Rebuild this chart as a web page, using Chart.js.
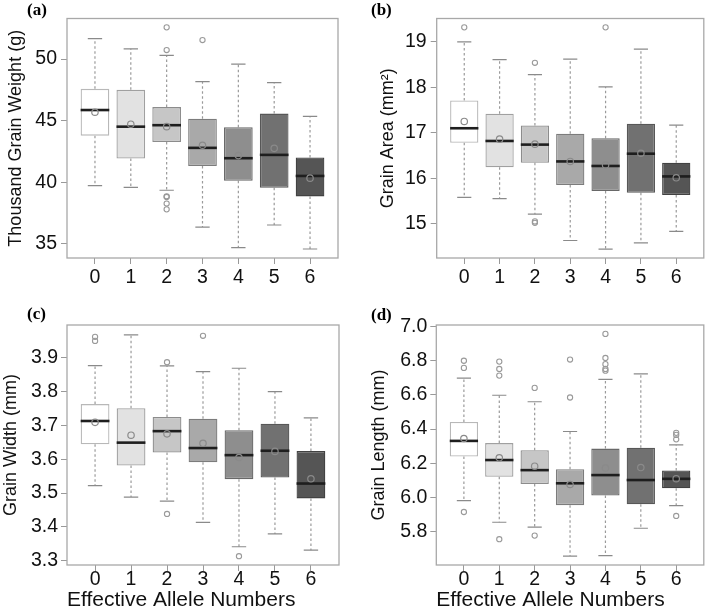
<!DOCTYPE html>
<html>
<head>
<meta charset="utf-8">
<script src="https://cdn.jsdelivr.net/npm/chart.js@4.4.1/dist/chart.umd.min.js"></script>
<style>
  html, body { margin: 0; padding: 0; background: #ffffff; }
  #wrap { position: relative; width: 709px; height: 616px; overflow: hidden; }
  canvas { position: absolute; }
</style>
</head>
<body>
<div id="wrap">
  <canvas id="ca" width="354" height="300" style="left:0px;top:0px;"></canvas>
  <canvas id="cb" width="355" height="300" style="left:354px;top:0px;"></canvas>
  <canvas id="cc" width="354" height="316" style="left:0px;top:300px;"></canvas>
  <canvas id="cd" width="355" height="316" style="left:354px;top:300px;"></canvas>
</div>
<script>
// ---------------- DATA ----------------
const categories = [0, 1, 2, 3, 4, 5, 6];

// (a) Thousand Grain Weight (g)
const twLo   = [39.73, 39.59, 39.35, 36.36, 34.70, 36.53, 34.58];
const twQ1   = [43.78, 41.92, 43.26, 41.31, 40.12, 39.55, 38.85];
const twMed  = [45.86, 44.51, 44.63, 42.79, 41.95, 42.22, 40.51];
const twQ3   = [47.58, 47.50, 46.10, 45.15, 44.47, 45.57, 42.01];
const twHi   = [51.65, 50.83, 50.29, 48.17, 49.59, 48.09, 45.34];
const twMean = [45.68, 44.71, 44.51, 43.00, 42.16, 42.75, 40.33];
const twOut  = [[], [], [52.57, 50.73, 38.86, 38.80, 38.27, 37.80], [51.54], [], [], []];
const twTicks = [35, 40, 45, 50];

// (b) Grain Area (mm²)
const gaLo   = [15.58, 15.55, 15.21, 14.63, 14.44, 14.58, 14.83];
const gaQ1   = [16.78, 16.24, 16.34, 15.85, 15.72, 15.68, 15.63];
const gaMed  = [17.10, 16.82, 16.74, 16.37, 16.27, 16.54, 16.04];
const gaQ3   = [17.71, 17.42, 17.16, 16.98, 16.88, 17.20, 16.34];
const gaHi   = [19.00, 18.61, 18.28, 18.62, 18.01, 18.84, 17.17];
const gaMean = [17.25, 16.86, 16.75, 16.37, 16.29, 16.55, 16.01];
const gaOut  = [[19.32], [], [18.54, 15.05, 15.02], [], [19.32], [], []];
const gaTicks = [15, 16, 17, 18, 19];

// (c) Grain Width (mm)
const gwLo   = [3.522, 3.488, 3.476, 3.413, 3.341, 3.379, 3.331];
const gwQ1   = [3.644, 3.581, 3.620, 3.591, 3.541, 3.546, 3.484];
const gwMed  = [3.713, 3.649, 3.683, 3.633, 3.612, 3.625, 3.528];
const gwQ3   = [3.763, 3.751, 3.725, 3.720, 3.686, 3.705, 3.624];
const gwHi   = [3.877, 3.968, 3.876, 3.859, 3.869, 3.800, 3.722];
const gwMean = [3.709, 3.671, 3.675, 3.647, 3.605, 3.623, 3.542];
const gwOut  = [[3.962, 3.950], [], [3.887, 3.438], [3.965], [3.313], [], []];
const gwTicks = [3.3, 3.4, 3.5, 3.6, 3.7, 3.8, 3.9];

// (d) Grain Length (mm)
const glLo   = [5.982, 5.855, 5.827, 5.657, 5.660, 5.820, 5.952];
const glQ1   = [6.239, 6.121, 6.079, 5.955, 6.012, 5.960, 6.054];
const glMed  = [6.331, 6.219, 6.160, 6.083, 6.131, 6.102, 6.109];
const glQ3   = [6.442, 6.318, 6.277, 6.165, 6.286, 6.291, 6.158];
const glHi   = [6.698, 6.598, 6.560, 6.386, 6.691, 6.723, 6.308];
const glMean = [6.345, 6.232, 6.183, 6.076, 6.172, 6.175, 6.110];
const glOut  = [[6.800, 6.758, 5.915], [6.795, 6.752, 6.713, 5.756], [6.641, 5.777], [6.807, 6.585],
                [6.957, 6.816, 6.780, 6.752, 6.742], [], [6.378, 6.366, 6.340, 5.892]];
const glTicks = [5.8, 6.0, 6.2, 6.4, 6.6, 6.8, 7.0];

const xTitle = 'Effective Allele Numbers';

// ---------------- STYLE ----------------
const boxFills   = ['#ffffff', '#e2e2e2', '#c6c6c6', '#a9a9a9', '#8e8e8e', '#717171', '#555555'];
const boxBorders = ['#b8b8b8', '#a0a0a0', '#8c8c8c', '#7c7c7c', '#686868', '#575757', '#424242'];
const SANS = '"Liberation Sans", Arial, Helvetica, sans-serif';

const boxParts = {
  id: 'boxParts',
  beforeDatasetsDraw(chart) {
    const o = chart.options.plugins.boxParts;
    const ctx = chart.ctx, xs = chart.scales.x, ys = chart.scales.y;
    const meta = chart.getDatasetMeta(0);
    ctx.save();
    categories.forEach((c, i) => {
      const x = xs.getPixelForValue(c);
      const half = meta.data[i].width / 2;
      const cap = half * 0.5;
      ctx.strokeStyle = '#9a9a9a';
      ctx.lineWidth = 1.2;
      ctx.setLineDash([2.5, 2.5]);
      ctx.beginPath();
      ctx.moveTo(x, ys.getPixelForValue(o.q3[i]));
      ctx.lineTo(x, ys.getPixelForValue(o.hi[i]));
      ctx.moveTo(x, ys.getPixelForValue(o.q1[i]));
      ctx.lineTo(x, ys.getPixelForValue(o.lo[i]));
      ctx.stroke();
      ctx.setLineDash([]);
      ctx.strokeStyle = '#8a8a8a';
      ctx.beginPath();
      ctx.moveTo(x - cap, ys.getPixelForValue(o.hi[i]));
      ctx.lineTo(x + cap, ys.getPixelForValue(o.hi[i]));
      ctx.moveTo(x - cap, ys.getPixelForValue(o.lo[i]));
      ctx.lineTo(x + cap, ys.getPixelForValue(o.lo[i]));
      ctx.stroke();
    });
    ctx.restore();
  },
  afterDatasetDraw(chart, args) {
    if (args.index !== 0) return;
    const o = chart.options.plugins.boxParts;
    const ctx = chart.ctx, xs = chart.scales.x, ys = chart.scales.y;
    const meta = chart.getDatasetMeta(0);
    ctx.save();
    ctx.strokeStyle = '#1e1e1e';
    ctx.lineWidth = 2.6;
    categories.forEach((c, i) => {
      const x = xs.getPixelForValue(c);
      const half = meta.data[i].width / 2;
      const y = ys.getPixelForValue(o.med[i]);
      ctx.beginPath();
      ctx.moveTo(x - half, y);
      ctx.lineTo(x + half, y);
      ctx.stroke();
    });
    ctx.restore();
  },
  afterDraw(chart) {
    const o = chart.options.plugins.boxParts;
    const ctx = chart.ctx, a = chart.chartArea;
    ctx.save();
    ctx.strokeStyle = '#a8a8a8';
    ctx.lineWidth = 1.3;
    ctx.strokeRect(a.left, a.top, a.right - a.left, a.bottom - a.top);
    ctx.fillStyle = '#000000';
    ctx.font = 'bold 17px "Liberation Serif", "Times New Roman", serif';
    ctx.textBaseline = 'middle';
    ctx.textAlign = 'left';
    ctx.fillText(o.letter, o.lx, o.ly);
    ctx.restore();
  }
};

function makePanel(id, p) {
  const barData = categories.map((c, i) => ({ x: c, y: [p.q1[i], p.q3[i]] }));
  const meanData = categories.map((c, i) => ({ x: c, y: p.mean[i] }));
  const outData = [];
  categories.forEach((c, i) => p.out[i].forEach(v => outData.push({ x: c, y: v })));
  const dec = p.dec;
  return new Chart(document.getElementById(id), {
    type: 'bar',
    data: {
      datasets: [
        {
          type: 'bar', data: barData, order: 3,
          backgroundColor: boxFills, borderColor: boxBorders, borderWidth: 1.3,
          borderSkipped: false, barPercentage: 0.8, categoryPercentage: 1.0, grouped: false
        },
        {
          type: 'scatter', data: outData, showLine: false, order: 2,
          pointStyle: 'circle', pointRadius: 2.6, pointBorderWidth: 1.1,
          pointBackgroundColor: 'rgba(0,0,0,0)', pointBorderColor: '#9a9a9a'
        },
        {
          type: 'scatter', data: meanData, showLine: false, order: 1,
          pointStyle: 'circle', pointRadius: 3.2, pointBorderWidth: 1.2,
          pointBackgroundColor: 'rgba(0,0,0,0)', pointBorderColor: '#8a8a8a'
        }
      ]
    },
    options: {
      responsive: false, animation: false, devicePixelRatio: 1,
      layout: { padding: { left: 0, right: p.padRight, top: p.padTop, bottom: 0 } },
      plugins: {
        legend: { display: false }, tooltip: { enabled: false },
        boxParts: { lo: p.lo, q1: p.q1, med: p.med, q3: p.q3, hi: p.hi,
                    letter: p.letter, lx: p.lx, ly: p.ly }
      },
      scales: {
        x: {
          type: 'linear', min: -0.78, max: 6.78, offset: false,
          afterBuildTicks: s => { s.ticks = categories.map(v => ({ value: v })); },
          afterFit: s => { s.height = p.xH; },
          grid: { display: true, drawOnChartArea: false, drawTicks: true, tickLength: 6,
                  color: '#999999', tickColor: '#999999', offset: false },
          border: { display: false },
          ticks: { color: '#111111', font: { family: SANS, size: 19.5 }, padding: p.xPad,
                   maxRotation: 0, autoSkip: false, callback: v => String(v) },
          title: p.showXTitle ? { display: true, text: xTitle, align: 'start', color: '#111111',
                   font: { family: SANS, size: 21 }, padding: { top: 0, bottom: 3 } }
                 : { display: false }
        },
        y: {
          type: 'linear', min: p.min, max: p.max,
          afterBuildTicks: s => { s.ticks = p.ticks.map(v => ({ value: v })); },
          afterFit: s => { s.width = p.yW; },
          grid: { display: true, drawOnChartArea: false, drawTicks: true, tickLength: 6,
                  color: '#999999', tickColor: '#999999' },
          border: { display: false },
          ticks: { color: '#111111', font: { family: SANS, size: 19.5 }, padding: p.yPad,
                   autoSkip: false, callback: v => Number(v).toFixed(dec) },
          title: { display: true, text: p.yTitle, color: '#111111',
                   font: { family: SANS, size: 18 }, padding: { top: p.yTitlePad, bottom: 0 } }
        }
      }
    },
    plugins: [boxParts]
  });
}

makePanel('ca', {
  lo: twLo, q1: twQ1, med: twMed, q3: twQ3, hi: twHi, mean: twMean, out: twOut,
  ticks: twTicks, dec: 0, min: 33.85, max: 53.29, yTitle: 'Thousand Grain Weight (g)',
  letter: '(a)', lx: 27, ly: 11, padRight: 16, padTop: 18.5, yW: 67, xH: 42,
  xPad: 2, yPad: 4, yTitlePad: 5, showXTitle: false
});
makePanel('cb', {
  lo: gaLo, q1: gaQ1, med: gaMed, q3: gaQ3, hi: gaHi, mean: gaMean, out: gaOut,
  ticks: gaTicks, dec: 0, min: 14.245, max: 19.515, yTitle: 'Grain Area (mm²)',
  letter: '(b)', lx: 17, ly: 11, padRight: 2.5, padTop: 18.5, yW: 82.7, xH: 42,
  xPad: 2, yPad: 4, yTitlePad: 23, showXTitle: false
});
makePanel('cc', {
  lo: gwLo, q1: gwQ1, med: gwMed, q3: gwQ3, hi: gwHi, mean: gwMean, out: gwOut,
  ticks: gwTicks, dec: 1, min: 3.287, max: 3.997, yTitle: 'Grain Width (mm)',
  letter: '(c)', lx: 27, ly: 15, padRight: 15, padTop: 25, yW: 67, xH: 51,
  xPad: -3, yPad: 3, yTitlePad: 0, showXTitle: true
});
makePanel('cd', {
  lo: glLo, q1: glQ1, med: glMed, q3: glQ3, hi: glHi, mean: glMean, out: glOut,
  ticks: glTicks, dec: 1, min: 5.605, max: 7.009, yTitle: 'Grain Length (mm)',
  letter: '(d)', lx: 17, ly: 16, padRight: 2.5, padTop: 25, yW: 82.3, xH: 51,
  xPad: -3, yPad: 3, yTitlePad: 14, showXTitle: true
});
</script>
</body>
</html>
